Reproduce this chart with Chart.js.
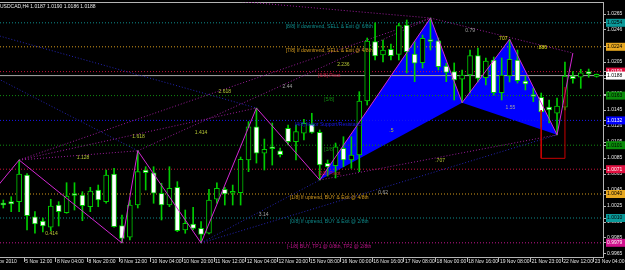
<!DOCTYPE html>
<html>
<head>
<meta charset="utf-8">
<script src="https://cdn.jsdelivr.net/npm/chart.js@4.4.0/dist/chart.umd.min.js"></script>
<style>
html,body{margin:0;padding:0;background:#000;}
canvas{display:block;background:#000;}
</style>
</head>
<body>
<canvas id="c" width="625" height="270"></canvas>
<script>
// ---------- DATA ----------
const chartTitle = "USDCAD,H4 1.0187 1.0190 1.0186 1.0188";
const opens = [1.00275,1.00304,1.00304,1.00638,1.00116,1.00062,0.99984,1.00262,1.00166,1.00387,
1.00387,1.00241,1.0045,1.00304,1.0065,1.00004,0.99859,1.00262,1.007,1.00666,
1.00409,1.00262,1.00484,0.9995,1.00025,0.99971,0.99909,1.00334,1.00459,1.00409,
1.00416,1.00825,1.01241,1.00909,1.00971,1.00941,1.01221,1.01054,1.01159,1.01271,
1.01171,1.00784,1.00754,1.00971,1.00825,1.00887,1.01562,1.02304,1.02137,1.02209,
1.02146,1.02512,1.0215,1.02041,1.02316,1.02316,1.02,1.01929,1.01834,1.01887,
1.02129,1.01854,1.02075,1.01666,1.01875,1.02075,1.01812,1.01625,1.01609,1.01487,
1.01409,1.01484,1.01875,1.01859,1.01929,1.0187];
const highs = [1.00325,1.00366,1.00825,1.00655,1.00179,1.001,1.00334,1.00304,1.00541,1.00541,
1.00429,1.00484,1.00512,1.007,1.00721,1.00137,1.00325,1.0094,1.00741,1.00741,
1.00534,1.00741,1.00554,1.002,1.00234,1.00054,1.00459,1.00541,1.00484,1.00512,
1.00862,1.01304,1.01475,1.01087,1.01287,1.00975,1.01262,1.01262,1.01334,1.01409,
1.012,1.00825,1.01037,1.01116,1.01116,1.01679,1.0235,1.02541,1.02325,1.02275,
1.02534,1.02575,1.02304,1.02387,1.026,1.0235,1.02034,1.02038,1.0195,1.022,
1.02225,1.021,1.02112,1.021,1.02334,1.022,1.01875,1.01725,1.01662,1.01575,
1.016,1.0205,1.01929,1.01959,1.01962,1.019];
const lows = [1.00225,1.00179,1.00179,0.9995,0.99909,0.99925,0.99941,1.0,1.00159,1.002,
1.00066,1.00179,1.00241,1.00284,0.99985,0.99788,0.99825,1.00225,1.0045,1.00284,
1.00075,1.00241,0.99929,0.99909,0.9995,0.99788,0.999,1.00284,1.00262,1.00262,
1.00262,1.00679,1.00787,1.007,1.00762,1.00862,1.01012,1.00825,1.01075,1.01159,
1.00575,1.00625,1.006,1.00741,1.00721,1.00679,1.01512,1.02075,1.0205,1.02075,
1.02075,1.01912,1.01804,1.01975,1.022,1.0195,1.01804,1.01575,1.01541,1.01662,
1.018,1.01762,1.01637,1.01575,1.018,1.01787,1.017,1.01554,1.01237,1.01287,
1.0114,1.0145,1.01784,1.01721,1.01859,1.0186];
const closes = [1.00262,1.00275,1.0065,1.00129,1.00025,1.0,1.0025,1.00179,1.00375,1.00381,
1.00254,1.00437,1.00325,1.00638,0.99991,0.99846,1.00262,1.00679,1.00666,1.00409,
1.00262,1.00471,0.99941,1.00034,0.99971,0.99896,1.00325,1.00471,1.004,1.00412,
1.00834,1.01241,1.00909,1.00959,1.00966,1.00891,1.01054,1.01179,1.01284,1.01171,
1.00762,1.00741,1.00991,1.00825,1.00887,1.01562,1.02312,1.02125,1.022,1.02129,
1.02504,1.02179,1.02034,1.02346,1.02306,1.01991,1.01921,1.01825,1.01887,1.02129,
1.01846,1.02062,1.01666,1.01887,1.02084,1.01816,1.01775,1.01619,1.01425,1.0145,
1.015,1.01875,1.01841,1.01916,1.019,1.0188];

const timeLabels = ["5 Nov 2010","5 Nov 12:00","8 Nov 04:00","8 Nov 20:00","9 Nov 12:00","10 Nov 04:00","10 Nov 20:00",
"11 Nov 12:00","12 Nov 04:00","12 Nov 20:00","15 Nov 08:00","16 Nov 00:00","16 Nov 16:00","17 Nov 08:00",
"18 Nov 00:00","18 Nov 16:00","19 Nov 08:00","21 Nov 23:00","22 Nov 12:00","23 Nov 04:00"];
const timeLabelBars = [-1.3,3,7,11,15,19,23,27,31,35,39,43,47,51,55,59,63,67,71,75];

const axisPrices = [1.0265,1.0246,1.0225,1.0205,1.0185,1.0165,1.0145,1.0126,1.0105,1.0085,1.0065,1.0045,1.0025,1.0005,0.9985,0.9965];
const murreyLevels = [1.0254,1.0224,1.0193,1.0163,1.0132,1.0101,1.0071,1.0040,1.0010,0.9979];
const murreyTexts = ["[8/8] If downtrend, SELL & Exit @ 6/8th","[7/8] If downtrend, SELL & Exit @ 4/8th","[6/8] Pivot","[5/8]",
"[4/8] Major Support/Resistance","[3/8]","[2/8] Pivot","[1/8] If uptrend, BUY & Exit @ 4/8th","[0/8] If uptrend, BUY & Exit @ 2/8th",
"[-1/8] BUY, TP1 @ 0/8th, TP2 @ 2/8th"];
const currentPrice = 1.0188;

const zigzagBars = [-3,2,15,17,25,32,40,54,58,64,70,72];
const zigzagPrices = [1.00225,1.00825,0.99788,1.0094,0.99788,1.01475,1.00575,1.026,1.01541,1.02334,1.0114,1.02162];

const pattern1Bars = [40,54,58];
const pattern1Prices = [1.00575,1.026,1.01541];
const pattern2Bars = [58,64,70];
const pattern2Prices = [1.01541,1.02334,1.0114];

const purpleTrend = [[2,1.00825,54,1.026],[2,1.00825,32,1.01475],[17,1.0094,54,1.026],[24.9,1.0285,54,1.026],
[54,1.026,72,1.02162],[40,1.00575,70,1.0114],[2,1.00825,17,1.0094]];
const blueTrend = [[-3,1.02445,32,1.01475],[-3,1.0196,17,1.0094],[25,0.99788,70,1.0114],[25,0.99788,40,1.00575]];

const redBoxBars = [68,68,71,71];
const redBoxPrices = [1.0145,1.00846,1.00846,1.01737];

const fibTexts = ["1.128","0.414","1.618","1.414","2.618","2.44","2.236","0.79",".707",".886","1.55",".5",".707","0.62","3.14"];
const fibBars = [9.3,5.3,16.3,24.2,27.2,35.3,42.2,58.4,62.5,67.5,63.5,48.8,54.6,47.4,32.3];
const fibPrices = [1.0086,0.999,1.01116,1.01171,1.01675,1.01742,1.02013,1.02437,1.02346,1.02225,1.0148,1.01188,1.00813,1.00412,1.00138];
const fibKinds = ["f","f","f","f","f","g","f","g","y","y","g","f","f","g","g"];

// ---------- STYLE / LAYOUT ----------
const xMin = -0.417, xMax = 75.81;
const yMin = 0.996125, yMax = 1.028;
const levelTextBar = 41.2;
const levelColors = ['#0e8c8c','#d49a1c','#c8143c','#108c10','#1818ee','#108c10','#c8143c','#d49a1c','#0e8c8c','#c0148c'];
const boxColors = ['#0a9a9a','#e8a820','#e01040','#0a8c0a','#0000ff','#0a8c0a','#e01040','#e8a820','#0a9a9a','#d0108c'];
const boxText = ['#000','#000','#fff','#000','#fff','#000','#fff','#000','#000','#fff'];
const fibColorMap = {f:'#b4c434', g:'#a0a0a0', y:'#e0e020'};
const candleGreen = '#00cc00';
const FONT = {family:'"Liberation Sans", Arial, sans-serif', size:5};

const pts = (bars, prices) => bars.map((b,i)=>({x:b, y:prices[i]}));
const idx = opens.map((_,i)=>i);
const datasets = [];

datasets.push({type:'line', data:pts(pattern1Bars,pattern1Prices), fill:'shape', backgroundColor:'#0000ff', borderWidth:0, pointRadius:0, order:30});
datasets.push({type:'line', data:pts(pattern2Bars,pattern2Prices), fill:'shape', backgroundColor:'#0000ff', borderWidth:0, pointRadius:0, order:30});

murreyLevels.forEach((v,i)=>{
  datasets.push({type:'line', data:[{x:xMin,y:v},{x:xMax,y:v}], borderColor:levelColors[i], borderWidth:1, borderDash:[1,2], pointRadius:0, fill:false, order:20});
});
datasets.push({type:'line', data:[{x:xMin,y:currentPrice},{x:xMax,y:currentPrice}], borderColor:'#a8a8a8', borderWidth:1, pointRadius:0, fill:false, order:19});

purpleTrend.forEach(t=>{
  datasets.push({type:'line', data:[{x:t[0],y:t[1]},{x:t[2],y:t[3]}], borderColor:'#9a1c9a', borderWidth:1, borderDash:[1,2], pointRadius:0, fill:false, order:18});
});
blueTrend.forEach(t=>{
  datasets.push({type:'line', data:[{x:t[0],y:t[1]},{x:t[2],y:t[3]}], borderColor:'#2424b4', borderWidth:1, borderDash:[1,2], pointRadius:0, fill:false, order:18});
});

datasets.push({type:'bar', data:idx.map(i=>({x:i, y:[lows[i],highs[i]]})), backgroundColor:candleGreen, barThickness:1, grouped:false, order:6});
datasets.push({type:'bar', data:idx.map(i=>({x:i, y:[opens[i],closes[i]]})),
  backgroundColor:idx.map(i=> closes[i] >= opens[i] ? '#000000' : '#ffffff'),
  borderColor:candleGreen, borderWidth:1, borderSkipped:false, barThickness:5, minBarLength:2, grouped:false, order:5});

datasets.push({type:'line', data:pts(zigzagBars,zigzagPrices), borderColor:'#d428d4', borderWidth:1, pointRadius:0, fill:false, tension:0, order:2});
datasets.push({type:'line', data:pts(redBoxBars,redBoxPrices), borderColor:'#c80000', borderWidth:1, pointRadius:0, fill:false, tension:0, order:1});

const isLevel = v => murreyLevels.indexOf(v) >= 0;

const textPlugin = {
  id:'texts',
  afterDatasetsDraw(chart){
    const {ctx, chartArea:a, scales:{x, y}} = chart;
    ctx.save();
    ctx.beginPath(); ctx.rect(a.left, a.top, a.right-a.left, a.bottom-a.top); ctx.clip();
    ctx.font = FONT.size + 'px ' + FONT.family;
    ctx.textAlign = 'center'; ctx.textBaseline = 'top';
    murreyTexts.forEach((t,i)=>{
      ctx.fillStyle = levelColors[i];
      ctx.fillText(t, x.getPixelForValue(levelTextBar), y.getPixelForValue(murreyLevels[i]) + 1.5);
    });
    ctx.textAlign = 'left'; ctx.textBaseline = 'middle';
    fibTexts.forEach((t,i)=>{
      ctx.fillStyle = fibColorMap[fibKinds[i]];
      ctx.fillText(t, x.getPixelForValue(fibBars[i]), y.getPixelForValue(fibPrices[i]));
    });
    ctx.fillStyle = '#e8e8e8'; ctx.textBaseline = 'top';
    ctx.fillText(chartTitle, a.left, a.top + 2);
    ctx.restore();
  }
};

new Chart(document.getElementById('c'), {
  type:'bar',
  data:{datasets},
  plugins:[textPlugin],
  options:{
    responsive:false, devicePixelRatio:1, animation:false, events:[],
    layout:{padding:{top:2,left:0,right:0,bottom:0}},
    plugins:{legend:{display:false}, tooltip:{enabled:false}, title:{display:false}},
    scales:{
      x:{type:'linear', position:'bottom', min:xMin, max:xMax, offset:false,
        afterBuildTicks:s=>{ s.ticks = timeLabelBars.map(b=>({value:b-0.35})); },
        afterFit:s=>{ s.height = 13; s.paddingLeft = 0; s.paddingRight = 0; },
        grid:{display:true, drawOnChartArea:false, drawTicks:true, tickLength:5, color:'#b4b4b4', offset:false},
        border:{display:true, color:'#b4b4b4', width:1},
        ticks:{autoSkip:false, maxRotation:0, minRotation:0, align:'start', padding:-3, labelOffset:1, color:'#e4e4e4', font:FONT,
          callback:(v,i)=>timeLabels[i]}
      },
      xTop:{type:'linear', position:'top', display:true,
        afterFit:s=>{ s.height = 0; s.paddingLeft = 0; s.paddingRight = 0; },
        grid:{display:true, drawOnChartArea:false, drawTicks:false},
        border:{display:true, color:'#b4b4b4', width:1},
        ticks:{display:false}
      },
      y:{type:'linear', position:'right', min:yMin, max:yMax,
        afterBuildTicks:s=>{ s.ticks = axisPrices.concat(murreyLevels,[currentPrice]).map(v=>({value:v})); },
        afterFit:s=>{ s.width = 22; s.paddingTop = 0; s.paddingBottom = 0; },
        grid:{display:true, drawOnChartArea:false, drawTicks:true, tickLength:3, color:'#b4b4b4'},
        border:{display:true, color:'#b4b4b4', width:1},
        ticks:{autoSkip:false, padding:1, font:FONT,
          callback:v=>v.toFixed(4),
          color:c=>{ const v=c.tick.value; const i=murreyLevels.indexOf(v); if(i>=0) return boxText[i]; if(v===currentPrice) return '#000'; return '#e4e4e4'; },
          showLabelBackdrop:c=> isLevel(c.tick.value) || c.tick.value===currentPrice,
          backdropColor:c=>{ const v=c.tick.value; const i=murreyLevels.indexOf(v); if(i>=0) return boxColors[i]; return '#ffffff'; },
          backdropPadding:{left:1,right:6,top:1,bottom:1}
        }
      }
    }
  }
});
</script>
</body>
</html>
